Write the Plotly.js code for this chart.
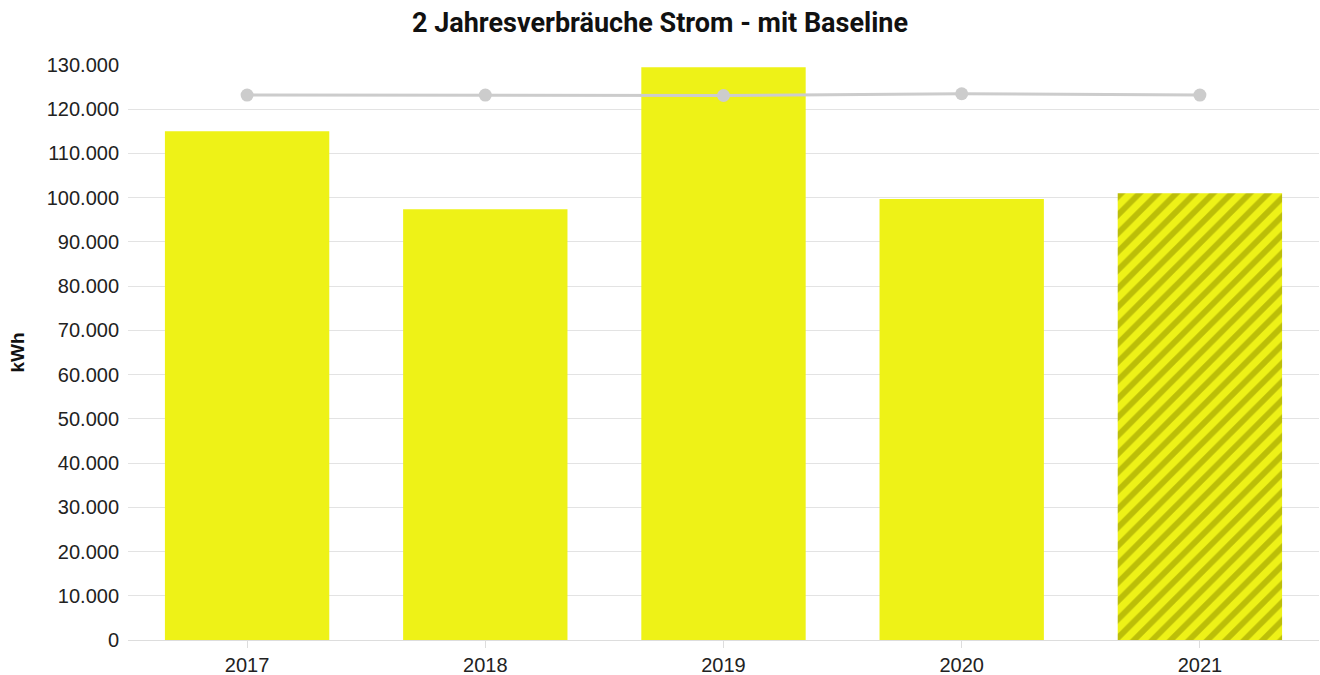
<!DOCTYPE html>
<html><head><meta charset="utf-8">
<script src="https://cdn.plot.ly/plotly-3.0.1.min.js"></script>
<style>html,body{margin:0;padding:0;background:#fff}#c{width:1320px;height:675px}</style>
</head><body><div id="c"></div>
<script>
const years = ['2017','2018','2019','2020','2021'];
const consumption = [115000, 97400, 129500, 99700, 101000];
const baseline = [123200, 123200, 123100, 123500, 123200];
const patterns = ['', '', '', '', '/'];

const traces = [
  {
    type: 'bar', x: years, y: consumption,
    marker: {
      color: '#eef217',
      pattern: {shape: patterns, fillmode: 'overlay', fgcolor: '#bcbe08', fgopacity: 1, size: 13, solidity: 0.45}
    },
    hoverinfo: 'y', showlegend: false
  },
  {
    type: 'scatter', mode: 'lines+markers', x: years, y: baseline,
    line: {color: '#cccccc', width: 3},
    marker: {color: '#cccccc', size: 13},
    showlegend: false
  }
];

const layout = {
  width: 1320, height: 675,
  margin: {l: 128, r: 1, t: 65, b: 35},
  paper_bgcolor: '#fff', plot_bgcolor: '#fff',
  separators: ',.',
  bargap: 0.31,
  title: {text: '<b>2 Jahresverbräuche Strom - mit Baseline</b>', x: 0.5, xanchor: 'center', y: 0.967, yanchor: 'middle',
    font: {family: 'Roboto', size: 27, color: '#111'}},
  font: {family: 'Liberation Sans, Arial, sans-serif', size: 20, color: '#222'},
  xaxis: {
    type: 'category', showgrid: false, showline: true, linecolor: '#dddddd', linewidth: 1,
    ticks: 'outside', ticklen: 7, tickcolor: '#dddddd', tickfont: {size: 20, color: '#222'},
    zeroline: false
  },
  yaxis: {
    range: [0, 130000], dtick: 10000, tickformat: ',d',
    showgrid: true, gridcolor: '#e3e3e3', gridwidth: 1, zeroline: false,
    ticks: '', ticklabelstandoff: 8, tickfont: {size: 20, color: '#222'},
    title: {text: '<b>kWh</b>', font: {size: 19, color: '#111'}, standoff: 17}
  }
};
Plotly.newPlot('c', traces, layout, {displayModeBar: false, staticPlot: true});
</script></body></html>
